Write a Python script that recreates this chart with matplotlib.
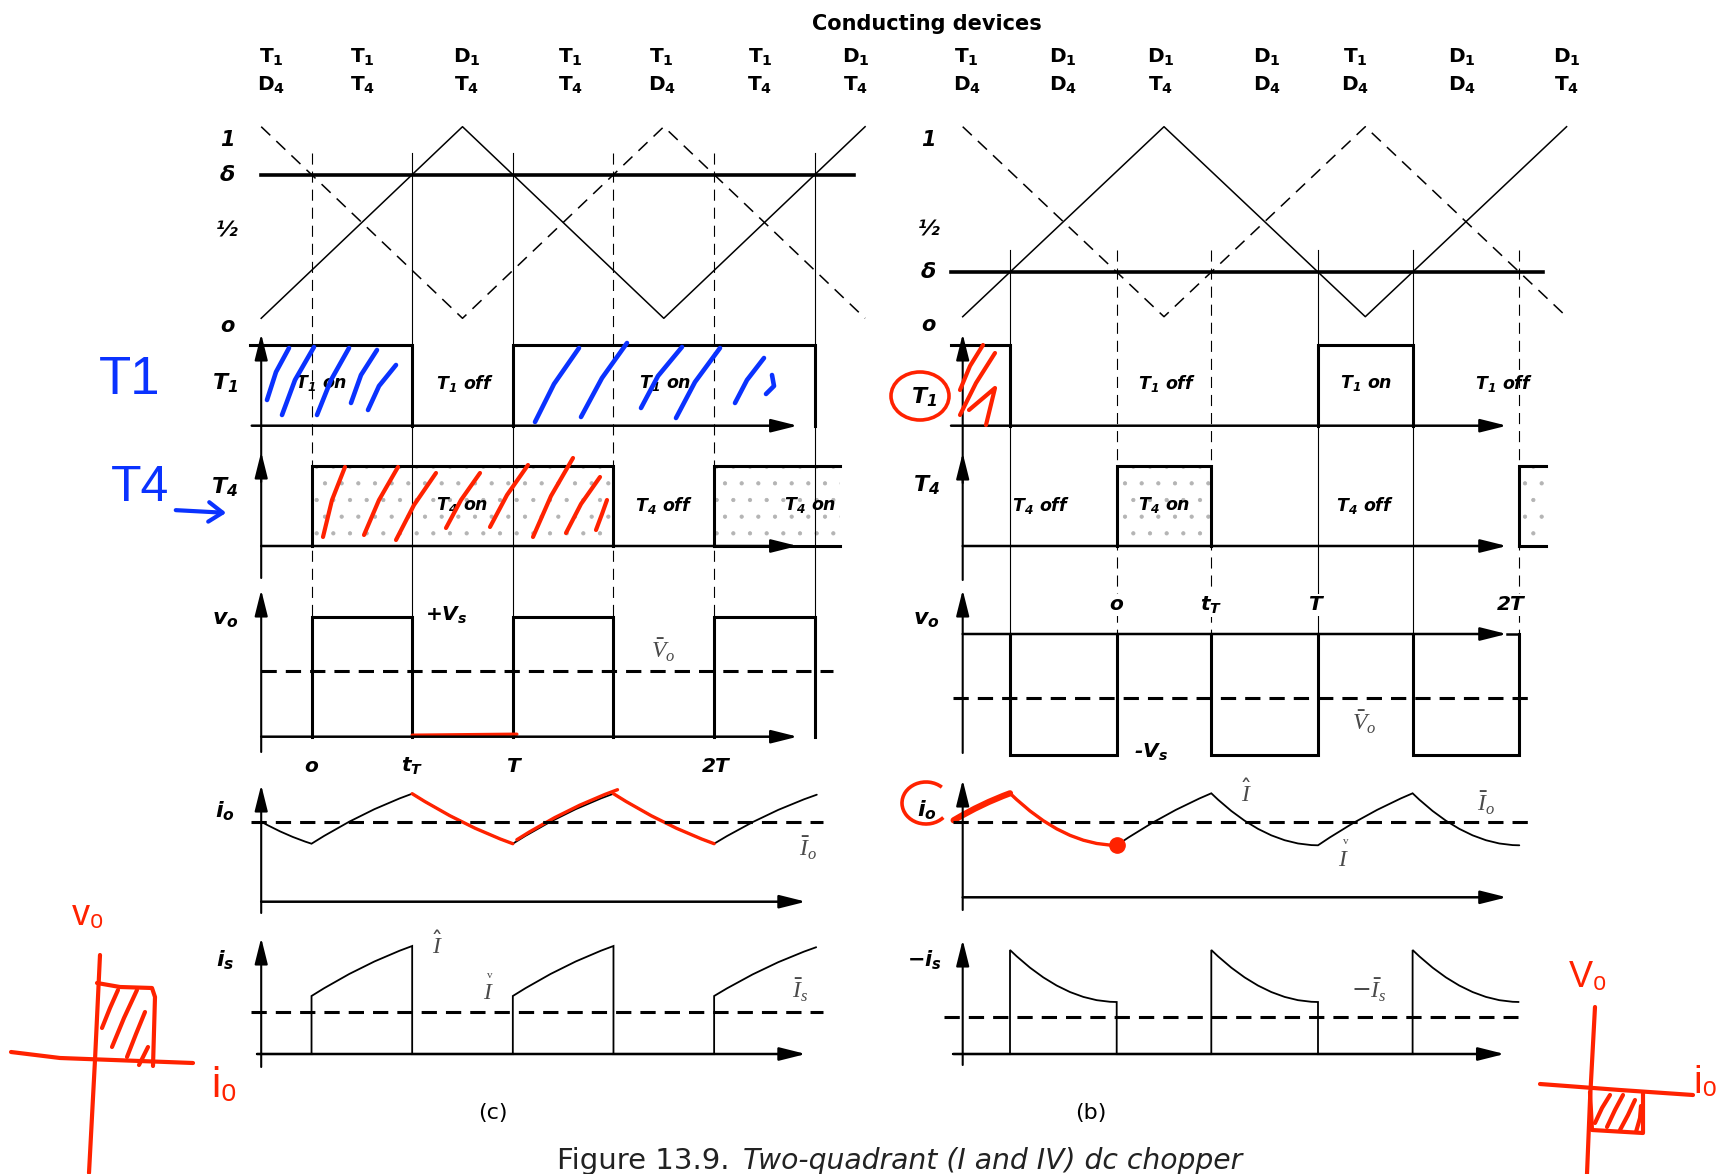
import numpy as np
import matplotlib
matplotlib.use('Agg')
import matplotlib.pyplot as plt
from matplotlib.path import Path
from matplotlib.patches import PathPatch, Ellipse, Arc

plt.rcParams['mathtext.fontset'] = 'custom'
plt.rcParams['mathtext.rm'] = 'DejaVu Sans'
plt.rcParams['mathtext.it'] = 'Liberation Serif:italic'
plt.rcParams['mathtext.bf'] = 'DejaVu Sans:bold'
plt.rcParams['mathtext.sf'] = 'DejaVu Sans:bold:italic'
plt.rcParams['lines.scale_dashes'] = False
plt.rcParams['hatch.linewidth'] = 0.6

W, H = 1719, 1174
UNIT = 201.3          # px per carrier half period

# ---------------- data (time in carrier half periods) ----------------
car_t = [0, 1, 2, 3]
car_solid = [0, 1, 0, 1]
car_dash = [1, 0, 1, 0]
car_tick_vals = [1, 0.5, 0]
car_tick_txt = ['1', '½', 'o']

delta_c = 0.75
delta_b = 0.235

edges_solid_c = [0.75, 1.25, 2.75]
edges_dash_c = [0.25, 1.75, 2.25]
edges_solid_b = [0.235, 1.765, 2.235]
edges_dash_b = [0.765, 1.235, 2.765]

dev_top_c = ['T1', 'T1', 'D1', 'T1', 'T1', 'T1', 'D1']
dev_bot_c = ['D4', 'T4', 'T4', 'T4', 'D4', 'T4', 'T4']
dev_pos_c = [0.05, 0.505, 1.02, 1.536, 1.99, 2.478, 2.955]
dev_top_b = ['T1', 'D1', 'D1', 'D1', 'T1', 'D1', 'D1']
dev_bot_b = ['D4', 'D4', 'T4', 'D4', 'D4', 'D4', 'T4']
dev_pos_b = [0.02, 0.5, 0.985, 1.51, 1.95, 2.48, 3.0]

t1_on_c = [(-0.057, 0.75), (1.25, 2.75)]
t4_on_c = [(0.25, 1.75), (2.25, 2.875)]
t1_txt_c = [(0.30, 'on'), (1.01, 'off'), (2.005, 'on')]
t4_txt_c = [(1.0, 'on'), (2.0, 'off'), (2.725, 'on')]
vo_hi_c = [(0.25, 0.75), (1.25, 1.75), (2.25, 2.75)]
vo_avg_c = 0.55
time_lbl_c = [(0.25, 'o'), (0.75, 'tT'), (1.25, 'T'), (2.26, '2T')]

t1_on_b = [(-0.058, 0.235), (1.765, 2.235)]
t4_on_b = [(0.765, 1.235), (2.765, 2.897)]
t1_txt_b = [(1.015, 'off'), (2.006, 'on'), (2.69, 'off')]
t4_txt_b = [(0.388, 'off'), (1.0, 'on'), (2.0, 'off')]
vo_lo_b = [(0.235, 0.765), (1.235, 1.765), (2.235, 2.765)]
vo_avg_b = -0.53
time_lbl_b = [(0.765, 'o'), (1.235, 'tT'), (1.75, 'T'), (2.72, '2T')]

io_t_c = [0, 0.25, 0.75, 1.25, 1.75, 2.25, 2.76]
io_c = [0.80, 0.58, 1.08, 0.58, 1.08, 0.58, 1.07]
io_avg_c = 0.80
is_on_c = [(0.25, 0.75), (1.25, 1.75), (2.25, 2.76)]
is_avg_c = 0.42

io_t_b = [-0.045, 0.235, 0.765, 1.235, 1.765, 2.235, 2.765]
io_b = [0.77, 1.04, 0.52, 1.04, 0.52, 1.04, 0.52]
io_avg_b = 0.75
is_on_b = [(0.235, 0.765), (1.235, 1.765), (2.235, 2.765)]
is_avg_b = 0.37

# ---------------- layout (px rows: base, amplitude) ----------------
rows_c = {'car': (318.3, 191.6), 't1': (425.7, 80.5), 't4': (546, 80),
          'vo': (736.7, 120), 'io': (901.7, 100), 'is': (1054, 100)}
rows_b = {'car': (316.7, 190), 't1': (425.7, 80.5), 't4': (546, 80),
          'vo': (634, 121), 'io': (897.3, 100), 'is': (1054, 100)}

BOLD_IT = dict(family='DejaVu Sans', fontweight='bold', fontstyle='italic')
SERIF_C = '#4a4a4a'

fig = plt.figure(figsize=(W / 100, H / 100), dpi=100)


def col_axes(x0):
    ax = fig.add_axes([0, 0, 1, 1])
    ax.set_xlim(-x0 / UNIT, (W - x0) / UNIT)
    ax.set_ylim(H, 0)
    ax.axis('off')
    ax.patch.set_visible(False)
    return ax


def Y(rows, key, v):
    base, amp = rows[key]
    return base - amp * np.asarray(v, dtype=float)


def arrow(ax, xy0, xy1, lw=1.5):
    ax.annotate('', xy=xy1, xytext=xy0,
                arrowprops=dict(arrowstyle='-|>,head_length=0.8,head_width=0.2',
                                lw=lw, color='k', shrinkA=0, shrinkB=0,
                                mutation_scale=20))


def check_I(ax, x, y):
    ax.text(x, y, r'$I$', ha='center', va='center', fontsize=17, color=SERIF_C)
    ax.text(x + 0.01, y - 17, 'v', ha='center', va='center', fontsize=8,
            color=SERIF_C, family='Liberation Serif')


def seg_verts(rows, key, ta, va, tb, vb, k_rise, k_fall):
    k = k_rise if vb > va else k_fall
    ctrl = (ta + 0.5 * (tb - ta), float(Y(rows, key, va + k * (vb - va))))
    return [ctrl, (tb, float(Y(rows, key, vb)))]


def wave(ax, rows, key, ts, vs, k_rise, k_fall, i0=0, i1=None, **kw):
    if i1 is None:
        i1 = len(ts) - 1
    verts = [(ts[i0], float(Y(rows, key, vs[i0])))]
    codes = [Path.MOVETO]
    for i in range(i0, i1):
        verts += seg_verts(rows, key, ts[i], vs[i], ts[i + 1], vs[i + 1], k_rise, k_fall)
        codes += [Path.CURVE3, Path.CURVE3]
    ax.add_patch(PathPatch(Path(verts, codes), fill=False, capstyle='round', **kw))


def switch_boxes(ax, rows, key, ivals, open_edge, fill=False, lw=2.2):
    base, top = float(Y(rows, key, 0)), float(Y(rows, key, 1))
    for a, b in ivals:
        xs, ys = [], []
        if a >= 0:
            xs.append(a); ys.append(base)
        xs += [a, b]; ys += [top, top]
        if b < open_edge:
            xs.append(b); ys.append(base)
        else:
            ax.plot([a, b], [base, base], color='k', lw=lw)
        if fill:
            ax.fill_between([max(a, 0), b], base, top, facecolor='none',
                            edgecolor='#b4b4b4', hatch='.', linewidth=0)
        ax.plot(xs, ys, color='k', lw=lw, solid_joinstyle='miter')


def dev_label(s):
    return r'$\mathbf{%s_%s}$' % (s[0], s[1])


def common(ax, rows, delta, dline, e_solid, e_dash, vbot, dev_pos, dev_top, dev_bot,
           t1_on, t4_on, t1_txt, t4_txt, axes_y, base_x, io_t, io, io_avg, avg_x,
           is_on, is_avg, is_avg_x, k_rise, k_fall):
    # conducting devices
    for p, a, b in zip(dev_pos, dev_top, dev_bot):
        ax.text(p, 57, dev_label(a), ha='center', va='center', fontsize=14.5)
        ax.text(p, 85, dev_label(b), ha='center', va='center', fontsize=14.5)
    # carriers and reference
    ax.plot(car_t, Y(rows, 'car', car_solid), color='k', lw=1.1)
    ax.plot(car_t, Y(rows, 'car', car_dash), color='k', lw=1.1, ls=(0, (9, 6)))
    yd = float(Y(rows, 'car', delta))
    ax.plot(dline, [yd, yd], color='k', lw=2.6)
    for v, s, off in zip(car_tick_vals, car_tick_txt, [13, 8, 8]):
        ax.text(-0.17, float(Y(rows, 'car', v)) + off, s, ha='center', va='center',
                fontsize=15, **BOLD_IT)
    ax.text(-0.17, yd, 'δ', ha='center', va='center', fontsize=16, **BOLD_IT)
    # switching instants
    for e in e_solid:
        ax.plot([e, e], [yd - 22, vbot], color='k', lw=0.8)
    for e in e_dash:
        ax.plot([e, e], [yd - 22, vbot], color='k', lw=0.8, ls=(0, (8, 5)))
    # vertical axes
    arrow(ax, (0, axes_y['t14'][0]), (0, axes_y['t14'][1]))
    arrow(ax, (0, axes_y['t4h'] + 30), (0, axes_y['t4h']))
    for k in ['vo', 'io', 'is']:
        arrow(ax, (0, axes_y[k][0]), (0, axes_y[k][1]))
    # baselines
    for k in ['t1', 't4', 'vo', 'io', 'is']:
        y0 = float(Y(rows, k, 0))
        arrow(ax, (base_x[k][0], y0), (base_x[k][1], y0), lw=1.8)
    # T1 / T4
    switch_boxes(ax, rows, 't1', t1_on, 2.85)
    switch_boxes(ax, rows, 't4', t4_on, 2.85, fill=True)
    for p, s in t1_txt:
        ax.text(p, 383, r'$\mathsf{T_1}$ ' + s, ha='center', va='center', fontsize=12.5, **BOLD_IT)
    for p, s in t4_txt:
        ax.text(p, 505, r'$\mathsf{T_4}$ ' + s, ha='center', va='center', fontsize=12.5, **BOLD_IT)
    # load current
    wave(ax, rows, 'io', io_t, io, k_rise, k_fall, color='k', lw=1.3)
    ya = float(Y(rows, 'io', io_avg))
    ax.plot(avg_x, [ya, ya], color='k', lw=2.2, ls=(0, (11, 6.5)))
    # supply current
    y0 = float(Y(rows, 'is', 0))
    prev = base_x['is'][0]
    for a, b in is_on:
        i = io_t.index(a)
        ax.plot([prev, a], [y0, y0], color='k', lw=1.5)
        verts = [(a, y0), (a, float(Y(rows, 'is', io[i])))]
        verts += seg_verts(rows, 'is', a, io[i], b, io[i + 1], k_rise, k_fall)
        codes = [Path.MOVETO, Path.LINETO, Path.CURVE3, Path.CURVE3]
        if b < 2.76:
            verts.append((b, y0)); codes.append(Path.LINETO)
        ax.add_patch(PathPatch(Path(verts, codes), fill=False, color='k', lw=1.3))
        prev = b
    ys = float(Y(rows, 'is', is_avg))
    ax.plot(is_avg_x, [ys, ys], color='k', lw=2.2, ls=(0, (11, 6.5)))


# ================= left column (c) =================
axL = col_axes(261.2)
common(axL, rows_c, delta_c, [0, 2.945], edges_solid_c, edges_dash_c, 616.7,
       dev_pos_c, dev_top_c, dev_bot_c, t1_on_c, t4_on_c, t1_txt_c, t4_txt_c,
       {'t14': (578, 334), 't4h': 452, 'vo': (752, 590), 'io': (913, 785), 'is': (1067, 938)},
       {'t1': (-0.047, 2.665), 't4': (0, 2.665), 'vo': (0, 2.665), 'io': (0, 2.706), 'is': (-0.02, 2.706)},
       io_t_c, io_c, io_avg_c, [-0.053, 2.79], is_on_c, is_avg_c, [-0.053, 2.79], 0.64, 0.64)

yb, yt = float(Y(rows_c, 'vo', 0)), float(Y(rows_c, 'vo', 1))
for a, b in vo_hi_c:
    axL.plot([a, a, b, b], [yb, yt, yt, yb], color='k', lw=2.2, solid_joinstyle='miter')
yv = float(Y(rows_c, 'vo', vo_avg_c))
axL.plot([0, 2.84], [yv, yv], color='k', lw=2.2, ls=(0, (11, 6.5)))
axL.text(0.92, 615, r'$\mathsf{+V_s}$', ha='center', va='center', fontsize=14.5)
axL.text(1.995, 650, r'$\bar{V}_o$', ha='center', va='center', fontsize=17, color=SERIF_C)
for p, s in time_lbl_c:
    lbl = r'$\mathsf{t_T}$' if s == 'tT' else s
    axL.text(p, 766, lbl, ha='center', va='center', fontsize=14.5, **BOLD_IT)
axL.text(-0.18, 383, r'$\mathsf{T_1}$', ha='center', va='center', fontsize=16)
axL.text(-0.18, 487, r'$\mathsf{T_4}$', ha='center', va='center', fontsize=16)
axL.text(-0.18, 620, r'$\mathsf{v_o}$', ha='center', va='center', fontsize=16)
axL.text(-0.18, 811, r'$\mathsf{i_o}$', ha='center', va='center', fontsize=16)
axL.text(-0.18, 960, r'$\mathsf{i_s}$', ha='center', va='center', fontsize=16)
axL.text(2.715, 848, r'$\bar{I}_o$', ha='center', va='center', fontsize=17, color=SERIF_C)
axL.text(0.877, 945, r'$\hat{I}$', ha='center', va='center', fontsize=17, color=SERIF_C)
check_I(axL, 1.127, 992)
axL.text(2.676, 990, r'$\bar{I}_s$', ha='center', va='center', fontsize=17, color=SERIF_C)
axL.text(1.149, 1113, '(c)', ha='center', va='center', fontsize=16, family='DejaVu Sans')

# ================= right column (b) =================
axR = col_axes(962.7)
common(axR, rows_b, delta_b, [-0.057, 2.885], edges_solid_b, edges_dash_b, 634,
       dev_pos_b, dev_top_b, dev_bot_b, t1_on_b, t4_on_b, t1_txt_b, t4_txt_b,
       {'t14': (580, 334), 't4h': 453, 'vo': (753, 590), 'io': (910, 780), 'is': (1065, 940)},
       {'t1': (-0.058, 2.703), 't4': (0, 2.703), 'vo': (0, 2.703), 'io': (0, 2.703), 'is': (-0.046, 2.692)},
       io_t_b, io_b, io_avg_b, [-0.046, 2.806], is_on_b, is_avg_b, [-0.093, 2.76], 0.62, 1.0)

yz, yl = float(Y(rows_b, 'vo', 0)), float(Y(rows_b, 'vo', -1))
axR.plot([2.703, vo_lo_b[-1][1]], [yz, yz], color='k', lw=1.8)
for a, b in vo_lo_b:
    axR.plot([a, a, b, b], [yz, yl, yl, yz], color='k', lw=2.2, solid_joinstyle='miter')
yv = float(Y(rows_b, 'vo', vo_avg_b))
axR.plot([-0.046, 2.806], [yv, yv], color='k', lw=2.2, ls=(0, (11, 6.5)))
axR.text(0.935, 752, '-' + r'$\mathsf{V_s}$', ha='center', va='center', fontsize=14.5, **BOLD_IT)
axR.text(1.996, 722, r'$\bar{V}_o$', ha='center', va='center', fontsize=17, color=SERIF_C)
for p, s in time_lbl_b:
    lbl = r'$\mathsf{t_T}$' if s == 'tT' else s
    axR.text(p, 605, lbl, ha='center', va='center', fontsize=14.5,
             bbox=dict(facecolor='white', edgecolor='none', pad=1), **BOLD_IT)
axR.text(-0.19, 397, r'$\mathsf{T_1}$', ha='center', va='center', fontsize=16)
axR.text(-0.18, 485, r'$\mathsf{T_4}$', ha='center', va='center', fontsize=16)
axR.text(-0.18, 620, r'$\mathsf{v_o}$', ha='center', va='center', fontsize=16)
axR.text(-0.18, 810, r'$\mathsf{i_o}$', ha='center', va='center', fontsize=16)
axR.text(-0.19, 960, r'$\mathsf{-i_s}$', ha='center', va='center', fontsize=15)
axR.text(1.412, 793, r'$\hat{I}$', ha='center', va='center', fontsize=17, color=SERIF_C)
axR.text(2.6, 803, r'$\bar{I}_o$', ha='center', va='center', fontsize=17, color=SERIF_C)
check_I(axR, 1.893, 859)
axR.text(2.018, 990, r'$-\bar{I}_s$', ha='center', va='center', fontsize=17, color=SERIF_C)
axR.text(0.637, 1113, '(b)', ha='center', va='center', fontsize=16, family='DejaVu Sans')

# ================= hand-drawn ink =================
RED = '#ff2200'
BLUE = '#0a32ff'
INK = dict(solid_capstyle='round', solid_joinstyle='round')

# red overlays on the current waveforms
wave(axL, rows_c, 'io', io_t_c, io_c, 0.64, 0.64, 2, 3, color=RED, lw=2.4)
wave(axL, rows_c, 'io', [t + 0.02 for t in io_t_c], [v + 0.04 for v in io_c],
     0.64, 0.64, 3, 4, color=RED, lw=2.4)
wave(axL, rows_c, 'io', io_t_c, io_c, 0.64, 0.64, 4, 5, color=RED, lw=2.4)
axL.plot([0.75, 1.27], [yb - 1.5, yb - 2.5], color=RED, lw=2.4, **INK)
wave(axR, rows_b, 'io', io_t_b, io_b, 0.62, 1.0, 0, 1, color=RED, lw=4.5)
wave(axR, rows_b, 'io', io_t_b, io_b, 0.62, 1.0, 1, 2, color=RED, lw=2.4)
axR.plot([io_t_b[2]], [float(Y(rows_b, 'io', io_b[2]))], 'o', color=RED, ms=11)

axI = fig.add_axes([0, 0, 1, 1])
axI.set_xlim(0, W)
axI.set_ylim(H, 0)
axI.axis('off')
axI.patch.set_visible(False)

blue_strokes = [
    [(267, 400), (276, 372), (289, 348)], [(282, 415), (295, 380), (314, 347)],
    [(317, 415), (331, 380), (349, 348)], [(351, 403), (361, 375), (377, 350)],
    [(368, 410), (379, 386), (396, 365)],
    [(535, 422), (554, 384), (579, 348)], [(581, 417), (602, 378), (627, 343)],
    [(641, 408), (658, 376), (682, 347)], [(676, 418), (695, 382), (720, 348)],
    [(735, 403), (747, 380), (764, 358)], [(766, 394), (774, 386), (772, 375)],
]
red_strokes = [
    [(323, 537), (332, 500), (345, 467)], [(364, 535), (379, 500), (398, 467)],
    [(396, 540), (414, 505), (436, 473)], [(446, 528), (461, 500), (480, 473)],
    [(490, 527), (507, 495), (528, 465)], [(533, 537), (551, 496), (573, 458)],
    [(566, 533), (581, 504), (600, 477)], [(596, 530), (602, 514), (607, 500)],
    [(960, 390), (970, 366), (983, 345)], [(960, 415), (976, 383), (995, 353)],
    [(969, 410), (995, 388), (986, 425)],
]
for s in blue_strokes:
    xs, ys = zip(*s)
    axI.plot(xs, ys, color=BLUE, lw=3.3, **INK)
for s in red_strokes:
    xs, ys = zip(*s)
    axI.plot(xs, ys, color=RED, lw=3.0, **INK)

HAND = ['Liberation Sans Narrow', 'Liberation Sans', 'DejaVu Sans']
axI.text(130, 380, 'T1', color=BLUE, fontsize=38, ha='center', va='center', family=HAND)
axI.text(140, 488, 'T4', color=BLUE, fontsize=36, ha='center', va='center', family=HAND)
axI.annotate('', xy=(229, 513), xytext=(173, 510),
             arrowprops=dict(arrowstyle='->,head_length=0.5,head_width=0.35',
                             color=BLUE, lw=3, mutation_scale=20))
axI.add_patch(Ellipse((920, 396), 58, 48, fill=False, color=RED, lw=2.6))
axI.add_patch(Arc((926, 803), 48, 42, theta1=40, theta2=315, color=RED, lw=2.6))

# quadrant sketches
quad_l = [[(100, 955), (95, 1060), (89, 1173)], [(11, 1052), (60, 1058), (193, 1063)],
          [(97, 983), (120, 987), (152, 988), (155, 997), (153, 1066)],
          [(102, 1028), (110, 1008), (118, 990)], [(112, 1047), (124, 1018), (137, 990)],
          [(127, 1057), (136, 1034), (145, 1012)], [(139, 1065), (144, 1055), (148, 1047)]]
quad_r = [[(1595, 1007), (1590, 1100), (1587, 1174)], [(1540, 1084), (1620, 1090), (1693, 1095)],
          [(1590, 1092), (1592, 1130), (1643, 1133), (1643, 1092)],
          [(1595, 1123), (1602, 1108), (1610, 1095)], [(1607, 1127), (1615, 1110), (1623, 1095)],
          [(1620, 1130), (1628, 1115), (1635, 1100)], [(1636, 1132), (1640, 1118), (1641, 1106)]]
for s in quad_l + quad_r:
    xs, ys = zip(*s)
    axI.plot(xs, ys, color=RED, lw=3.0, **INK)
axI.text(88, 915, 'v₀', color=RED, fontsize=26, ha='center', va='center', family=HAND)
axI.text(224, 1086, 'i₀', color=RED, fontsize=30, ha='center', va='center', family=HAND)
axI.text(1588, 978, 'V₀', color=RED, fontsize=26, ha='center', va='center', family=HAND)
axI.text(1706, 1083, 'i₀', color=RED, fontsize=28, ha='center', va='center', family=HAND)

# titles
axI.text(927, 24, 'Conducting devices', ha='center', va='center', fontsize=15,
         fontweight='bold', family='DejaVu Sans')
axI.text(557, 1161, 'Figure 13.9.', ha='left', va='center', fontsize=21,
         family='DejaVu Sans', color='#222222')
axI.text(743, 1161, 'Two-quadrant (I and IV) dc chopper', ha='left', va='center',
         fontsize=20.3, fontstyle='italic', family='DejaVu Sans', color='#222222')

fig.savefig('out.png', dpi=100)
